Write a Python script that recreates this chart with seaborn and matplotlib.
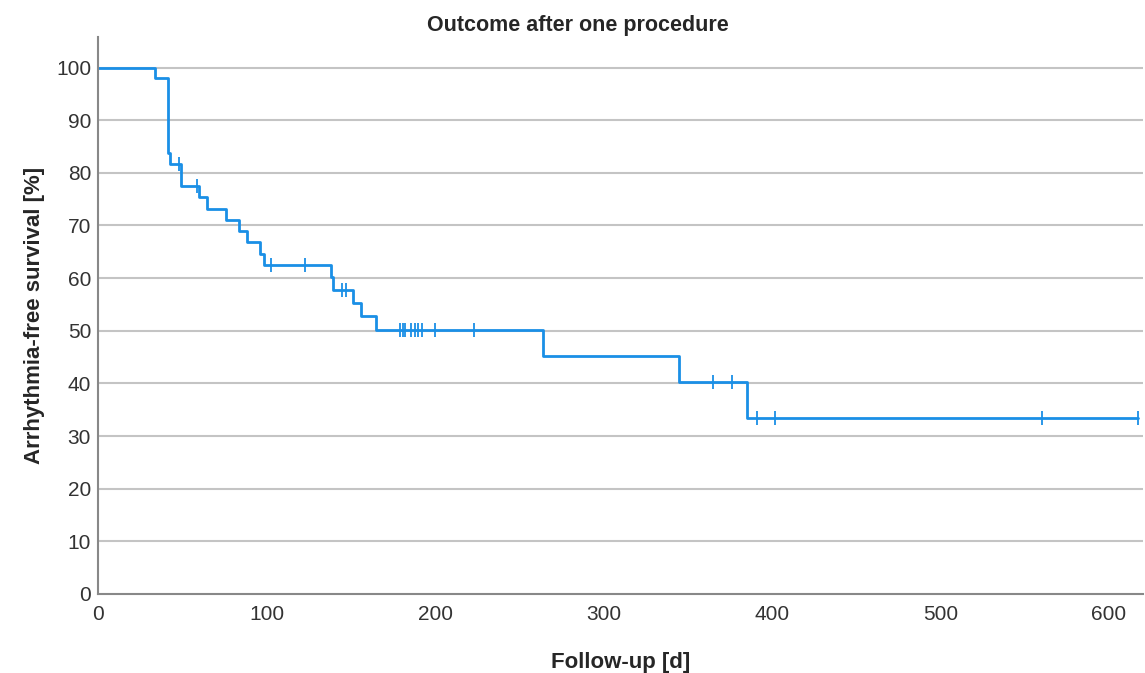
import numpy as np
import pandas as pd
import seaborn as sns
import matplotlib.pyplot as plt

# Kaplan-Meier steps (time in days, survival in %)
step_time = [0, 33.8, 41.6, 43.0, 49.0, 60.0, 64.8, 75.8, 83.5, 88.5, 96.0, 98.3,
             138.4, 139.4, 151.5, 156.0, 165.0, 264.0, 345.0, 385.0, 617.0]
step_surv = [100.0, 98.0, 83.7, 81.6, 77.5, 75.4, 73.2, 71.1, 68.9, 66.9, 64.6, 62.4,
             60.2, 57.8, 55.3, 52.9, 50.2, 45.2, 40.2, 33.5, 33.5]

# censored observations (days)
censor_time = [48, 59, 102.5, 123, 145, 147, 179, 181, 182, 186, 188, 190, 192,
               200, 223, 365, 376, 391, 402, 560, 617]

y_ticks = [0, 10, 20, 30, 40, 50, 60, 70, 80, 90, 100]
x_ticks = [0, 100, 200, 300, 400, 500, 600]

curve = pd.DataFrame({"time": step_time, "surv": step_surv})
idx = np.searchsorted(step_time, censor_time, side="right") - 1
censors = pd.DataFrame({"time": censor_time, "surv": np.array(step_surv)[idx]})

sns.set_style("white")
plt.rcParams["font.family"] = ["Liberation Sans", "DejaVu Sans"]

blue = "#1a8fe6"
fig = plt.figure(figsize=(11.45, 6.73), dpi=100)
ax = fig.add_axes([0.0856, 0.1174, 0.9124, 0.8276])

for yv in y_ticks[1:]:
    ax.axhline(yv, color="#c4c4c4", lw=1.5, zorder=0)

sns.lineplot(data=curve, x="time", y="surv", drawstyle="steps-post",
             color=blue, lw=2.0, ax=ax)
sns.scatterplot(data=censors, x="time", y="surv", marker="|", s=90,
                color=blue, linewidth=1.3, ax=ax, zorder=3)

ax.set_xlim(0, 620)
ax.set_ylim(0, 105.8)
ax.set_xticks(x_ticks)
ax.set_yticks(y_ticks)
ax.tick_params(axis="both", length=0, labelsize=15, colors="#333333")
ax.tick_params(axis="y", pad=5)
ax.tick_params(axis="x", pad=8)
for sp in ["top", "right"]:
    ax.spines[sp].set_visible(False)
for sp in ["left", "bottom"]:
    ax.spines[sp].set_color("#888888")
    ax.spines[sp].set_linewidth(1.5)

ax.set_xlabel("Follow-up [d]", fontsize=16, fontweight="bold", labelpad=20)
ax.set_ylabel("Arrhythmia-free survival [%]", fontsize=16, fontweight="bold", labelpad=8)
fig.text(0.505, 0.962, "Outcome after one procedure", ha="center", va="center",
         fontsize=15.5, fontweight="bold")

fig.savefig("out.png", dpi=100)
